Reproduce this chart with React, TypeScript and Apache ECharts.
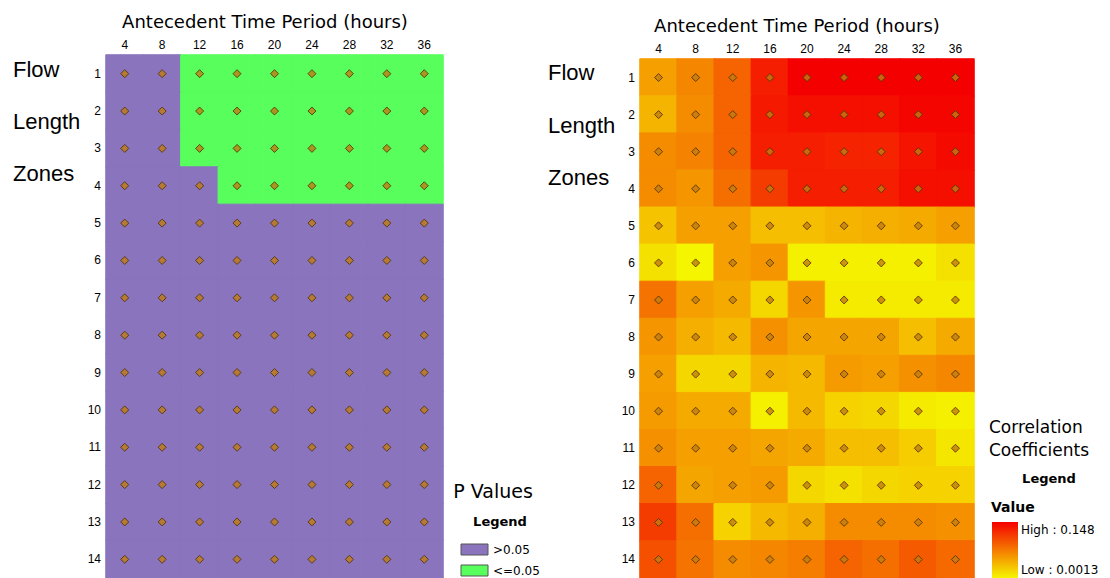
import React, { useEffect, useRef } from "react";
import * as echarts from "echarts";

const hours = ["4", "8", "12", "16", "20", "24", "28", "32", "36"];
const zones = ["1", "2", "3", "4", "5", "6", "7", "8", "9", "10", "11", "12", "13", "14"];
const rowLabels = ["Flow", "Length", "Zones"];

// 1 = p <= 0.05, 0 = p > 0.05 (rows = zones 1..14, cols = hours)
const pSignificant: number[][] = [
  [0, 0, 1, 1, 1, 1, 1, 1, 1],
  [0, 0, 1, 1, 1, 1, 1, 1, 1],
  [0, 0, 1, 1, 1, 1, 1, 1, 1],
  [0, 0, 0, 1, 1, 1, 1, 1, 1],
  [0, 0, 0, 0, 0, 0, 0, 0, 0],
  [0, 0, 0, 0, 0, 0, 0, 0, 0],
  [0, 0, 0, 0, 0, 0, 0, 0, 0],
  [0, 0, 0, 0, 0, 0, 0, 0, 0],
  [0, 0, 0, 0, 0, 0, 0, 0, 0],
  [0, 0, 0, 0, 0, 0, 0, 0, 0],
  [0, 0, 0, 0, 0, 0, 0, 0, 0],
  [0, 0, 0, 0, 0, 0, 0, 0, 0],
  [0, 0, 0, 0, 0, 0, 0, 0, 0],
  [0, 0, 0, 0, 0, 0, 0, 0, 0],
];

// correlation coefficients (rows = zones 1..14, cols = hours)
const corr: number[][] = [
  [0.052, 0.067, 0.088, 0.130, 0.148, 0.148, 0.148, 0.148, 0.148],
  [0.040, 0.064, 0.088, 0.133, 0.139, 0.139, 0.139, 0.145, 0.145],
  [0.064, 0.070, 0.088, 0.130, 0.130, 0.127, 0.127, 0.136, 0.142],
  [0.064, 0.058, 0.082, 0.112, 0.130, 0.130, 0.130, 0.139, 0.139],
  [0.031, 0.052, 0.052, 0.034, 0.034, 0.040, 0.043, 0.046, 0.052],
  [0.013, 0.001, 0.052, 0.058, 0.004, 0.004, 0.004, 0.004, 0.013],
  [0.079, 0.052, 0.046, 0.019, 0.058, 0.007, 0.007, 0.007, 0.007],
  [0.058, 0.043, 0.037, 0.061, 0.049, 0.049, 0.049, 0.034, 0.046],
  [0.052, 0.019, 0.019, 0.040, 0.037, 0.055, 0.052, 0.061, 0.067],
  [0.055, 0.046, 0.046, 0.004, 0.037, 0.022, 0.019, 0.007, 0.004],
  [0.061, 0.052, 0.052, 0.049, 0.046, 0.034, 0.034, 0.025, 0.010],
  [0.088, 0.049, 0.052, 0.055, 0.019, 0.013, 0.019, 0.022, 0.022],
  [0.112, 0.082, 0.022, 0.037, 0.043, 0.064, 0.064, 0.064, 0.061],
  [0.100, 0.079, 0.064, 0.067, 0.073, 0.088, 0.082, 0.094, 0.085],
];

const corrLow = 0.0013;
const corrHigh = 0.148;

const PURPLE = "#8a74bd";
const GREEN = "#58fe5c";
const LOW_COLOR = "#f5f500";
const HIGH_COLOR = "#f50000";
const TICK_FONT = "Liberation Sans, Arial, sans-serif";
const TEXT_FONT = "DejaVu Sans, sans-serif";

export default function App() {
  const ref = useRef<HTMLDivElement>(null);

  useEffect(() => {
    if (!ref.current) return;
    const chart = echarts.init(ref.current, null, { renderer: "svg" });

    const pData: any[] = [];
    const cData: any[] = [];
    const marks: number[][] = [];
    zones.forEach((_, yi) => {
      hours.forEach((_, xi) => {
        const f = pSignificant[yi][xi];
        pData.push({
          value: [xi, yi, f],
          itemStyle: { borderColor: f ? GREEN : PURPLE, borderWidth: 1 },
        });
        const v = corr[yi][xi];
        const t = Math.max(0, Math.min(1, (v - corrLow) / (corrHigh - corrLow)));
        cData.push({
          value: [xi, yi, v],
          itemStyle: {
            borderColor: echarts.color.lerp(t, [LOW_COLOR, HIGH_COLOR]),
            borderWidth: 1,
          },
        });
        marks.push([xi, yi]);
      });
    });

    const xAxisBase = {
      type: "category" as const,
      data: hours,
      position: "top" as const,
      axisLine: { show: false },
      axisTick: { show: false },
      splitLine: { show: false },
      axisLabel: { color: "#000", fontSize: 12, fontFamily: TICK_FONT, margin: 4 },
    };
    const yAxisBase = {
      type: "category" as const,
      data: zones,
      inverse: true,
      axisLine: { show: false },
      axisTick: { show: false },
      splitLine: { show: false },
      axisLabel: { color: "#000", fontSize: 12, fontFamily: TICK_FONT, margin: 5 },
    };

    const markerStyle = {
      symbol: "diamond",
      symbolSize: 8,
      itemStyle: { color: "#c27c12", borderColor: "#4a2e00", borderWidth: 1 },
      silent: true,
    };

    const rowLabelText = (x: number, ys: number[]) =>
      rowLabels.map((t, i) => ({
        type: "text",
        x,
        y: ys[i],
        style: {
          text: t,
          fontSize: 22,
          fontFamily: TICK_FONT,
          fill: "#000",
          textVerticalAlign: "middle",
        },
      }));

    const option: any = {
      animation: false,
      backgroundColor: "#fff",
      grid: [
        { left: 106, top: 55, width: 337, height: 523 },
        { left: 640, top: 59, width: 334, height: 520 },
      ],
      xAxis: [
        { ...xAxisBase, gridIndex: 0 },
        { ...xAxisBase, gridIndex: 1 },
      ],
      yAxis: [
        { ...yAxisBase, gridIndex: 0 },
        { ...yAxisBase, gridIndex: 1 },
      ],
      visualMap: [
        {
          type: "piecewise",
          show: false,
          seriesIndex: 0,
          dimension: 2,
          pieces: [
            { value: 0, color: PURPLE },
            { value: 1, color: GREEN },
          ],
        },
        {
          type: "continuous",
          show: false,
          seriesIndex: 1,
          dimension: 2,
          min: corrLow,
          max: corrHigh,
          inRange: { color: [LOW_COLOR, HIGH_COLOR] },
        },
      ],
      series: [
        {
          type: "heatmap",
          xAxisIndex: 0,
          yAxisIndex: 0,
          data: pData,
          silent: true,
        },
        {
          type: "heatmap",
          xAxisIndex: 1,
          yAxisIndex: 1,
          data: cData,
          silent: true,
        },
        { type: "scatter", xAxisIndex: 0, yAxisIndex: 0, data: marks, ...markerStyle },
        { type: "scatter", xAxisIndex: 1, yAxisIndex: 1, data: marks, ...markerStyle },
      ],
      graphic: [
        {
          type: "text",
          x: 265,
          y: 21,
          style: {
            text: "Antecedent Time Period (hours)",
            fontSize: 18,
            fontFamily: TEXT_FONT,
            fill: "#000",
            textAlign: "center",
            textVerticalAlign: "middle",
          },
        },
        {
          type: "text",
          x: 797,
          y: 25,
          style: {
            text: "Antecedent Time Period (hours)",
            fontSize: 18,
            fontFamily: TEXT_FONT,
            fill: "#000",
            textAlign: "center",
            textVerticalAlign: "middle",
          },
        },
        ...rowLabelText(13, [69, 121, 173]),
        ...rowLabelText(548, [72, 125, 177]),
        // P values legend
        {
          type: "text",
          x: 493,
          y: 491,
          style: { text: "P Values", fontSize: 19, fontFamily: TEXT_FONT, fill: "#000", textAlign: "center", textVerticalAlign: "middle" },
        },
        {
          type: "text",
          x: 500,
          y: 521,
          style: { text: "Legend", fontSize: 13, fontWeight: "bold", fontFamily: TEXT_FONT, fill: "#000", textAlign: "center", textVerticalAlign: "middle" },
        },
        {
          type: "rect",
          shape: { x: 461, y: 544, width: 27, height: 11 },
          style: { fill: PURPLE, stroke: "#555", lineWidth: 1 },
        },
        {
          type: "rect",
          shape: { x: 461, y: 565, width: 27, height: 11 },
          style: { fill: GREEN, stroke: "#555", lineWidth: 1 },
        },
        {
          type: "text",
          x: 493,
          y: 550,
          style: { text: ">0.05", fontSize: 12, fontFamily: TEXT_FONT, fill: "#000", textVerticalAlign: "middle" },
        },
        {
          type: "text",
          x: 493,
          y: 571,
          style: { text: "<=0.05", fontSize: 12, fontFamily: TEXT_FONT, fill: "#000", textVerticalAlign: "middle" },
        },
        // correlation legend
        {
          type: "text",
          x: 989,
          y: 427,
          style: { text: "Correlation", fontSize: 17, fontFamily: TEXT_FONT, fill: "#000", textVerticalAlign: "middle" },
        },
        {
          type: "text",
          x: 989,
          y: 450,
          style: { text: "Coefficients", fontSize: 17, fontFamily: TEXT_FONT, fill: "#000", textVerticalAlign: "middle" },
        },
        {
          type: "text",
          x: 1049,
          y: 478,
          style: { text: "Legend", fontSize: 13, fontWeight: "bold", fontFamily: TEXT_FONT, fill: "#000", textAlign: "center", textVerticalAlign: "middle" },
        },
        {
          type: "text",
          x: 991,
          y: 507,
          style: { text: "Value", fontSize: 14, fontWeight: "bold", fontFamily: TEXT_FONT, fill: "#000", textVerticalAlign: "middle" },
        },
        {
          type: "rect",
          shape: { x: 992, y: 522, width: 26, height: 56 },
          style: {
            fill: {
              type: "linear",
              x: 0,
              y: 0,
              x2: 0,
              y2: 1,
              colorStops: [
                { offset: 0, color: HIGH_COLOR },
                { offset: 1, color: LOW_COLOR },
              ],
            },
          },
        },
        {
          type: "text",
          x: 1021,
          y: 530,
          style: { text: "High : " + corrHigh, fontSize: 12, fontFamily: TEXT_FONT, fill: "#000", textVerticalAlign: "middle" },
        },
        {
          type: "text",
          x: 1021,
          y: 570,
          style: { text: "Low : " + corrLow, fontSize: 12, fontFamily: TEXT_FONT, fill: "#000", textVerticalAlign: "middle" },
        },
      ],
    };

    chart.setOption(option);
    return () => chart.dispose();
  }, []);

  return (
    <div
      ref={ref}
      style={{ position: "absolute", left: 0, top: 0, width: 1110, height: 578 }}
    />
  );
}
